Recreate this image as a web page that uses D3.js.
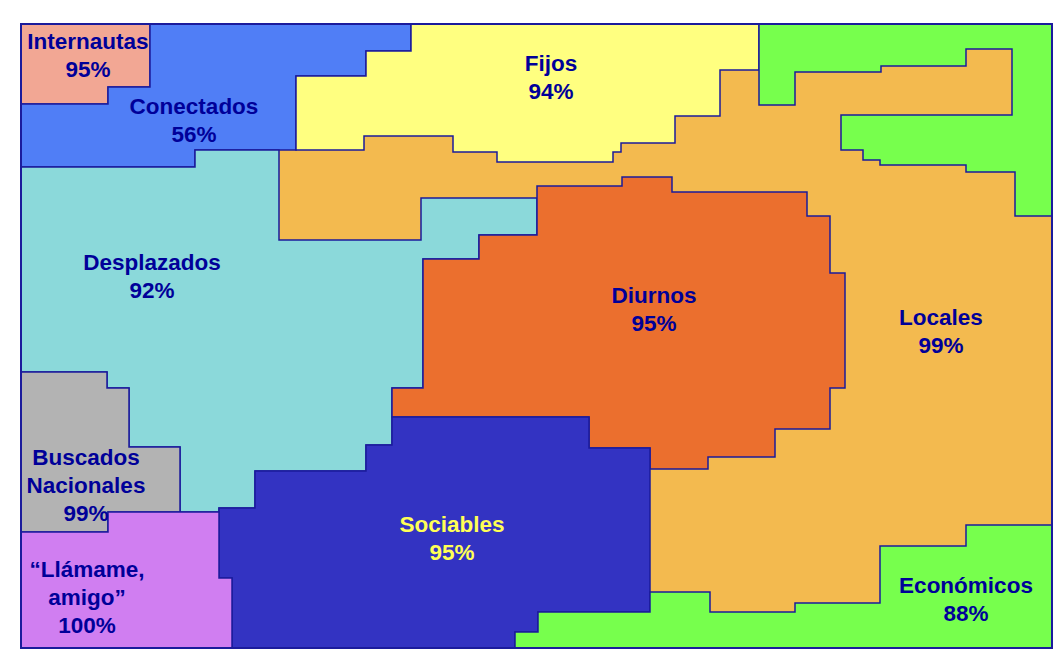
<!DOCTYPE html>
<html>
<head>
<meta charset="utf-8">
<script src="https://cdn.jsdelivr.net/npm/d3@7"></script>
<style>
  body { margin: 0; background: #fff; }
  svg text { font-family: "Liberation Sans", Arial, sans-serif; font-weight: bold; }
</style>
</head>
<body>
<svg width="1062" height="664"></svg>
<script>
// segment names, share (%) and label lines
var names = ["Locales", "Internautas", "Conectados", "Fijos", "Verde", "Desplazados", "Diurnos",
  "Sociables", "Buscados Nacionales", "Llámame, amigo", "Económicos"];
var values = [99, 95, 56, 94, null, 92, 95, 95, 99, 100, 88];
var labelLines = [
  ["Locales"], ["Internautas"], ["Conectados"], ["Fijos"], [], ["Desplazados"], ["Diurnos"],
  ["Sociables"], ["Buscados", "Nacionales"], ["\u201cLlámame,", "amigo\u201d"], ["Económicos"]
];

// region outlines on the map grid (0..1031 x 0..624)
var shapes = [
  [[0,0],[1031,0],[1031,624],[0,624]],
  [[0,0],[129,0],[129,63],[87,63],[87,80],[0,80]],
  [[129,0],[390,0],[390,27],[345,27],[345,52],[275,52],[275,126],[174,126],[174,143],[0,143],[0,80],[87,80],[87,63],[129,63]],
  [[390,0],[738,0],[738,46],[699,46],[699,92],[654,92],[654,119],[600,119],[600,128],[592,128],[592,138],[476,138],[476,128],[432,128],[432,112],[343,112],[343,126],[275,126],[275,52],[345,52],[345,27],[390,27]],
  [[738,0],[1031,0],[1031,192],[994,192],[994,148],[945,148],[945,141],[859,141],[859,136],[842,136],[842,126],[820,126],[820,91],[991,91],[991,25],[945,25],[945,42],[860,42],[860,48],[774,48],[774,81],[738,81]],
  [[0,143],[174,143],[174,126],[258,126],[258,216],[400,216],[400,174],[516,174],[516,211],[458,211],[458,235],[402,235],[402,364],[371,364],[371,421],[345,421],[345,447],[234,447],[234,484],[198,484],[198,488],[159,488],[159,423],[108,423],[108,364],[86,364],[86,348],[0,348]],
  [[402,235],[458,235],[458,211],[516,211],[516,162],[601,162],[601,153],[651,153],[651,168],[786,168],[786,192],[809,192],[809,249],[824,249],[824,364],[809,364],[809,405],[754,405],[754,433],[687,433],[687,445],[629,445],[629,424],[568,424],[568,393],[371,393],[371,364],[402,364]],
  [[371,393],[568,393],[568,424],[629,424],[629,588],[517,588],[517,608],[494,608],[494,624],[211,624],[211,554],[198,554],[198,484],[234,484],[234,447],[345,447],[345,421],[371,421]],
  [[0,348],[86,348],[86,364],[108,364],[108,423],[159,423],[159,488],[87,488],[87,508],[0,508]],
  [[0,508],[87,508],[87,488],[198,488],[198,554],[211,554],[211,624],[0,624]],
  [[494,624],[494,608],[517,608],[517,588],[629,588],[629,568],[689,568],[689,588],[774,588],[774,579],[859,579],[859,522],[945,522],[945,501],[1031,501],[1031,624]]
];

var colors = ["#f3ba4f", "#f2a794", "#507ef6", "#ffff80", "#77ff4d", "#8bd9da", "#eb6f2e",
  "#3333c2", "#b3b3b3", "#d07ef1", "#77ff4d"];

// label anchor (centre x, first baseline) on the same grid
var labelAt = [[920,301],[67,25],[173,90],[530,47],null,[131,246],[633,279],[431,508],[65,441],[66,553],[945,569]];

var svg = d3.select("svg");
var x = d3.scaleLinear().domain([0, 1031]).range([21, 1052]);
var y = d3.scaleLinear().domain([0, 624]).range([24, 648]);

var line = d3.line().x(function (d) { return x(d[0]); }).y(function (d) { return y(d[1]); });

svg.append("g")
  .selectAll("path")
  .data(shapes)
  .enter()
  .append("path")
  .attr("d", function (d) { return line(d) + "Z"; })
  .attr("fill", function (d, i) { return colors[i]; })
  .attr("stroke", "#1b1b9c")
  .attr("stroke-width", 1.5)
  .attr("stroke-linejoin", "miter");

// outer frame
svg.append("rect")
  .attr("x", x(0)).attr("y", y(0))
  .attr("width", x(1031) - x(0)).attr("height", y(624) - y(0))
  .attr("fill", "none")
  .attr("stroke", "#1b1b9c")
  .attr("stroke-width", 2);

var labels = svg.append("g")
  .selectAll("text")
  .data(names.map(function (n, i) { return i; }).filter(function (i) { return labelAt[i]; }))
  .enter()
  .append("text")
  .attr("text-anchor", "middle")
  .attr("font-size", 22.5)
  .attr("fill", function (i) { return names[i] === "Sociables" ? "#ffff55" : "#000099"; })
  .attr("x", function (i) { return x(labelAt[i][0]); })
  .attr("y", function (i) { return y(labelAt[i][1]); });

labels.each(function (i) {
  var t = d3.select(this);
  var lines = labelLines[i].concat([values[i] + "%"]);
  lines.forEach(function (s, k) {
    t.append("tspan")
      .attr("x", x(labelAt[i][0]))
      .attr("dy", k === 0 ? 0 : 28)
      .text(s);
  });
});
</script>
</body>
</html>
